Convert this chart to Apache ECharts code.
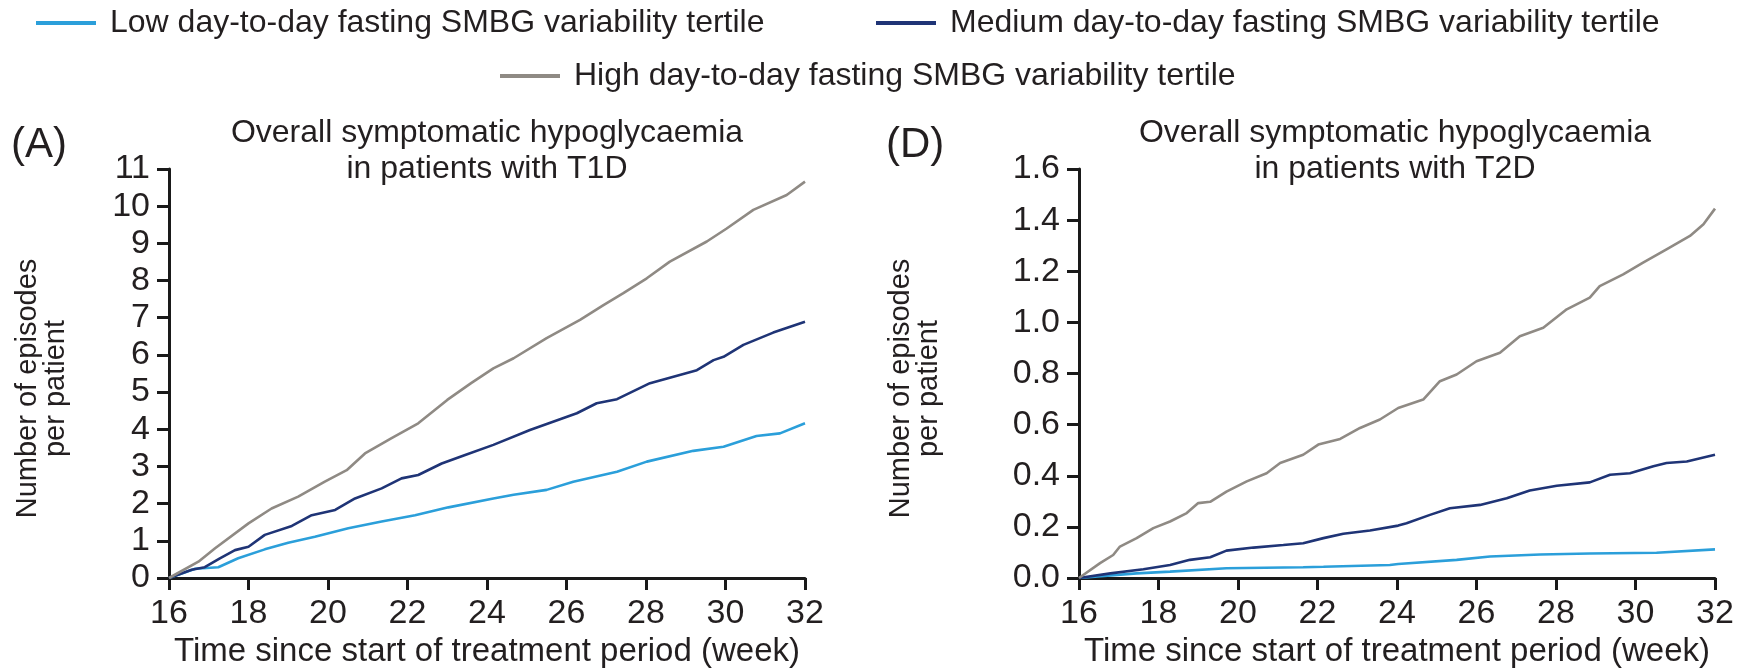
<!DOCTYPE html>
<html>
<head>
<meta charset="utf-8">
<script src="https://cdn.jsdelivr.net/npm/echarts@6/dist/echarts.min.js"></script>
<style>
  html, body { margin: 0; padding: 0; background: #ffffff; }
  #chart { width: 1748px; height: 669px; }
</style>
</head>
<body>
<div id="chart"></div>
<script>
// Series names (tertiles of day-to-day fasting SMBG variability)
const seriesNames = [
  'Low day-to-day fasting SMBG variability tertile',
  'Medium day-to-day fasting SMBG variability tertile',
  'High day-to-day fasting SMBG variability tertile'
];

// Cumulative episodes per patient, [week, value] — panel (A), T1D
const t1dLow = [[16,0],[16.66,0.25],[17.24,0.29],[17.74,0.53],[18.41,0.77],[19.0,0.95],[19.67,1.11],[20.51,1.34],[21.35,1.52],[22.19,1.69],[23.03,1.90],[24.16,2.14],[24.67,2.24],[25.5,2.37],[26.17,2.59],[27.27,2.86],[28.02,3.13],[29.19,3.42],[29.95,3.53],[30.78,3.82],[31.37,3.89],[32,4.16]];
const t1dMedium = [[16,0],[16.57,0.22],[16.9,0.29],[17.28,0.53],[17.66,0.75],[18.0,0.84],[18.41,1.16],[19.09,1.40],[19.59,1.69],[20.18,1.83],[20.68,2.14],[21.35,2.41],[21.85,2.68],[22.27,2.77],[22.86,3.08],[23.45,3.31],[24.16,3.58],[25.08,3.98],[26.26,4.43],[26.76,4.70],[27.27,4.81],[28.1,5.24],[29.28,5.59],[29.7,5.86],[29.95,5.95],[30.45,6.27],[31.2,6.60],[32,6.89]];
const t1dHigh = [[16,0],[16.74,0.44],[17.16,0.80],[18.0,1.47],[18.58,1.87],[19.25,2.19],[19.92,2.59],[20.47,2.90],[20.93,3.35],[21.6,3.76],[22.27,4.16],[23.0,4.79],[23.6,5.24],[24.16,5.64],[24.67,5.91],[25.5,6.45],[26.34,6.94],[26.93,7.34],[27.43,7.66],[28.02,8.06],[28.6,8.51],[29.53,9.05],[30.03,9.40],[30.7,9.90],[31.54,10.30],[32,10.66]];

// Cumulative episodes per patient, [week, value] — panel (D), T2D
const t2dLow = [[16,0],[17.45,0.018],[18.29,0.025],[19.71,0.038],[21.64,0.042],[22.15,0.044],[23.82,0.051],[24.03,0.055],[25.5,0.071],[26.34,0.084],[27.6,0.092],[28.85,0.096],[30.53,0.099],[32,0.112]];
const t2dMedium = [[16,0],[16.79,0.018],[17.62,0.034],[18.29,0.051],[18.79,0.071],[19.3,0.081],[19.71,0.107],[20.39,0.119],[21.14,0.129],[21.64,0.136],[22.15,0.156],[22.65,0.173],[23.32,0.186],[24.03,0.205],[24.24,0.214],[24.83,0.247],[25.33,0.273],[26.09,0.286],[26.76,0.312],[27.34,0.342],[28.02,0.361],[28.85,0.374],[29.36,0.404],[29.86,0.410],[30.45,0.437],[30.78,0.450],[31.29,0.456],[32,0.482]];
const t2dHigh = [[16,0],[16.53,0.058],[16.86,0.090],[17.03,0.123],[17.45,0.156],[17.87,0.195],[18.29,0.221],[18.71,0.254],[19.0,0.293],[19.3,0.298],[19.71,0.338],[20.22,0.378],[20.72,0.410],[21.06,0.450],[21.64,0.482],[22.02,0.522],[22.57,0.544],[23.07,0.587],[23.57,0.620],[24.03,0.665],[24.66,0.698],[25.08,0.770],[25.5,0.796],[26.0,0.848],[26.59,0.881],[27.09,0.946],[27.68,0.979],[28.27,1.051],[28.85,1.097],[29.1,1.142],[29.69,1.188],[30.19,1.234],[30.78,1.286],[31.37,1.338],[31.71,1.384],[32,1.445]];

// Axis ranges and labels
const weekRange = { min: 16, max: 32, interval: 2 };
const t1dRange = { min: 0, max: 11, interval: 1 };
const t2dRange = { min: 0, max: 1.6, interval: 0.2 };
const panelLabels = ['(A)', '(D)'];
const panelTitles = [
  'Overall symptomatic hypoglycaemia\nin patients with T1D',
  'Overall symptomatic hypoglycaemia\nin patients with T2D'
];
const xAxisTitle = 'Time since start of treatment period (week)';
const yAxisTitle = 'Number of episodes\nper patient';

const colors = ['#2b9fda', '#1f3476', '#8f8a84'];
const FONT = "'Liberation Sans', Arial, Helvetica, sans-serif";
const INK = '#231f20';
const AXIS = '#1a1a1a';

// Plot areas (pixels)
const grids = [
  { left: 169, top: 169, width: 636, height: 409 },
  { left: 1079, top: 169, width: 636, height: 409 }
];

function xAxisFor(i) {
  return {
    type: 'value', gridIndex: i,
    min: weekRange.min, max: weekRange.max, interval: weekRange.interval,
    name: xAxisTitle, nameLocation: 'middle', nameGap: 55,
    nameTextStyle: { fontFamily: FONT, fontSize: 33, color: INK },
    axisLine: { show: true, onZero: false, lineStyle: { color: AXIS, width: 3 } },
    axisTick: { show: true, inside: false, length: 12, lineStyle: { color: AXIS, width: 3 } },
    axisLabel: { fontFamily: FONT, fontSize: 34, color: INK, margin: 19, showMinLabel: true, showMaxLabel: true, hideOverlap: false },
    splitLine: { show: false }
  };
}

function yAxisFor(i, range, gap, fmt) {
  return {
    type: 'value', gridIndex: i,
    min: range.min, max: range.max, interval: range.interval,
    name: yAxisTitle, nameLocation: 'middle', nameGap: gap,
    nameTextStyle: { fontFamily: FONT, fontSize: 29, lineHeight: 28, color: INK, align: 'center', padding: [0, 30, 0, 0] },
    axisLine: { show: true, onZero: false, lineStyle: { color: AXIS, width: 3 } },
    axisTick: { show: true, inside: false, length: 12, lineStyle: { color: AXIS, width: 3 } },
    axisLabel: { fontFamily: FONT, fontSize: 34, color: INK, margin: 19, formatter: fmt, showMinLabel: true, showMaxLabel: true, hideOverlap: false },
    splitLine: { show: false }
  };
}

function lineSeries(name, data, gi, color) {
  return {
    type: 'line', name: name, data: data,
    xAxisIndex: gi, yAxisIndex: gi,
    showSymbol: false, symbol: 'none', smooth: false,
    lineStyle: { color: color, width: 2.6 },
    itemStyle: { color: color },
    emphasis: { disabled: true },
    animation: false
  };
}

function legendFor(idx, left, top) {
  return {
    data: [seriesNames[idx]],
    left: left, top: top, padding: 0,
    icon: 'rect', itemWidth: 60, itemHeight: 4,
    selectedMode: false,
    textStyle: { fontFamily: FONT, fontSize: 32, color: INK, padding: [0, 0, 0, 9] }
  };
}

const option = {
  backgroundColor: '#ffffff',
  animation: false,
  title: [
    { text: panelLabels[0], left: 11, top: 124, padding: 0, textStyle: { fontFamily: FONT, fontSize: 42, fontWeight: 'normal', color: INK } },
    { text: panelLabels[1], left: 886, top: 124, padding: 0, textStyle: { fontFamily: FONT, fontSize: 42, fontWeight: 'normal', color: INK } },
    { text: panelTitles[0], left: 487, top: 115, padding: 0, textAlign: 'center', textStyle: { fontFamily: FONT, fontSize: 32, lineHeight: 36, fontWeight: 'normal', color: INK } },
    { text: panelTitles[1], left: 1395, top: 115, padding: 0, textAlign: 'center', textStyle: { fontFamily: FONT, fontSize: 32, lineHeight: 36, fontWeight: 'normal', color: INK } }
  ],
  legend: [
    legendFor(0, 36, 7),
    legendFor(1, 876, 7),
    legendFor(2, 500, 60)
  ],
  grid: grids.map(g => Object.assign({ containLabel: false, outerBoundsMode: 'none' }, g)),
  xAxis: [xAxisFor(0), xAxisFor(1)],
  yAxis: [
    yAxisFor(0, t1dRange, 99, v => String(v)),
    yAxisFor(1, t2dRange, 136, v => v.toFixed(1))
  ],
  series: [
    lineSeries(seriesNames[0], t1dLow, 0, colors[0]),
    lineSeries(seriesNames[1], t1dMedium, 0, colors[1]),
    lineSeries(seriesNames[2], t1dHigh, 0, colors[2]),
    lineSeries(seriesNames[0], t2dLow, 1, colors[0]),
    lineSeries(seriesNames[1], t2dMedium, 1, colors[1]),
    lineSeries(seriesNames[2], t2dHigh, 1, colors[2])
  ]
};

const chart = echarts.init(document.getElementById('chart'), null, { renderer: 'canvas', width: 1748, height: 669 });
chart.setOption(option);
</script>
</body>
</html>
